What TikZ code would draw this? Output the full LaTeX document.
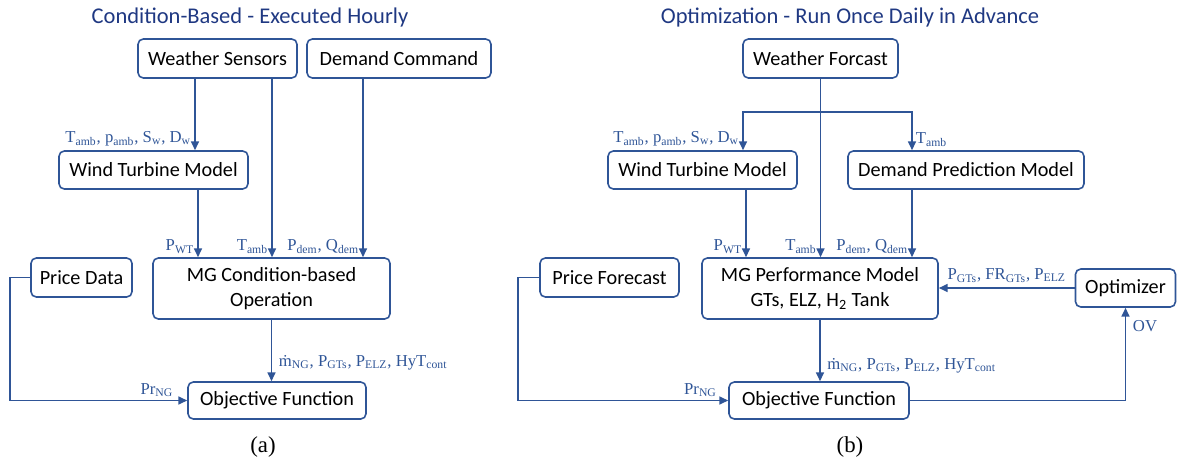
\documentclass[tikz,border=0pt]{standalone}
\usepackage{fontspec}
\setmainfont{Carlito}
\newfontfamily\labfont{Liberation Serif}
\usetikzlibrary{arrows.meta,positioning,calc}
\definecolor{lineblue}{RGB}{47,85,151}
\definecolor{titleblue}{RGB}{31,56,130}
\newcommand{\sbt}[1]{\textsubscript{#1}}
\tikzset{
  % boxes
  box/.style={
    draw=lineblue,
    line width=0.9pt,
    rounded corners=3pt,
    minimum height=0.78cm,
    align=center,
    font=\fontsize{11.5}{14}\selectfont
  },
  % connectors
  line/.style={draw=lineblue, line width=0.9pt},
  arr/.style={line, -{Triangle[length=5pt,width=4.5pt]}},
  lab/.style={font=\labfont\fontsize{9.5}{11}\selectfont, text=lineblue, inner sep=1.8pt},
  ttl/.style={font=\fontsize{12.8}{15}\selectfont, text=titleblue},
  subcap/.style={font=\labfont\fontsize{13}{15}\selectfont},
}
\begin{document}
\begin{tikzpicture}
    \useasboundingbox (0,0) rectangle (23.56,-9.24);

    % (a) Condition-based
    \node[ttl] (ta) at (5.0,-0.36) {Condition-Based - Executed Hourly};
    \node[box, minimum width=3.18cm] (ws) at (4.35,-1.17) {Weather Sensors};
    \node[box, minimum width=3.68cm] (dc) at (7.98,-1.17) {Demand Command};
    \node[box, minimum width=3.78cm, minimum height=0.76cm] (wt) at (3.07,-3.40) {Wind Turbine Model};
    \node[box, minimum width=4.74cm, minimum height=1.22cm] (mg) at (5.43,-5.77) {MG Condition-based\\Operation};
    \node[box, minimum width=2.02cm] (pd) at (1.63,-5.55) {Price Data};
    \node[box, minimum width=3.56cm, minimum height=0.74cm] (of) at (5.54,-8.01) {Objective Function};
    \node[subcap] (ca) at (5.26,-8.94) {(a)};

    \draw[arr] ([xshift=-0.45cm]ws.south) -- ([xshift=-0.45cm]ws.south |- wt.north)
        node[lab, above left] {T\sbt{amb}, p\sbt{amb}, S\sbt{w}, D\sbt{w}};
    \draw[arr] ([xshift=0.89cm]wt.south) -- ([xshift=0.89cm]wt.south |- mg.north)
        node[lab, above left] {P\sbt{WT}};
    \draw[arr] ([xshift=1.09cm]ws.south) -- ([xshift=1.09cm]ws.south |- mg.north)
        node[lab, above left] {T\sbt{amb}};
    \draw[arr] ([xshift=-0.72cm]dc.south) -- ([xshift=-0.72cm]dc.south |- mg.north)
        node[lab, above left] {P\sbt{dem}, Q\sbt{dem}};
    \draw[arr] (mg.south) -- (mg.south |- of.north)
        node[lab, pos=0.7, right=2pt] {\.{m}\sbt{NG}, P\sbt{GTs}, P\sbt{ELZ}, HyT\sbt{cont}};
    \draw[arr] (pd.west) -- ++(-0.4,0) |- (of.west)
        node[lab, above left, xshift=-0.2cm] {Pr\sbt{NG}};

    % (b) Optimization
    \node[ttl] (tb) at (17.0,-0.36) {Optimization - Run Once Daily in Advance};
    \node[box, minimum width=3.10cm] (wf) at (16.41,-1.17) {Weather Forcast};
    \node[box, minimum width=3.78cm, minimum height=0.76cm] (wt2) at (14.05,-3.40) {Wind Turbine Model};
    \node[box, minimum width=4.72cm, minimum height=0.76cm] (dp) at (19.32,-3.40) {Demand Prediction Model};
    \node[box, minimum width=4.72cm, minimum height=1.22cm] (mg2) at (16.40,-5.77) {MG Performance Model\\GTs, ELZ, H\sbt{2} Tank};
    \node[box, minimum width=2.78cm] (pf) at (12.19,-5.55) {Price Forecast};
    \node[box, minimum width=2.0cm, minimum height=0.76cm] (opt) at (22.51,-5.76) {Optimizer};
    \node[box, minimum width=3.60cm, minimum height=0.74cm] (of2) at (16.38,-8.01) {Objective Function};
    \node[subcap] (cb) at (17.0,-8.94) {(b)};

    \coordinate (br) at ($(wf.south)+(0,-0.66)$);
    \draw[arr] (wf.south) -- (wf.south |- mg2.north)
        node[lab, above left] {T\sbt{amb}};
    \draw[arr] (br) -| ([xshift=0.81cm]wt2.north)
        node[lab, above left] {T\sbt{amb}, p\sbt{amb}, S\sbt{w}, D\sbt{w}};
    \draw[arr] (br) -| ([xshift=-1.08cm]dp.north)
        node[lab, above right] {T\sbt{amb}};
    \draw[arr] ([xshift=0.87cm]wt2.south) -- ([xshift=0.87cm]wt2.south |- mg2.north)
        node[lab, above left] {P\sbt{WT}};
    \draw[arr] ([xshift=-1.08cm]dp.south) -- ([xshift=-1.08cm]dp.south |- mg2.north)
        node[lab, above left] {P\sbt{dem}, Q\sbt{dem}};
    \draw[arr] (opt.west) -- (mg2.east |- opt.west)
        node[lab, midway, above=1pt] {P\sbt{GTs}, FR\sbt{GTs}, P\sbt{ELZ}};
    \draw[arr] (mg2.south) -- (mg2.south |- of2.north)
        node[lab, pos=0.75, right=2pt] {\.{m}\sbt{NG}, P\sbt{GTs}, P\sbt{ELZ}, HyT\sbt{cont}};
    \draw[arr] (pf.west) -- ++(-0.42,0) |- (of2.west)
        node[lab, above left, xshift=-0.15cm] {Pr\sbt{NG}};
    \draw[arr] (of2.east) -| (opt.south)
        node[lab, pos=0.9, right=2pt] {OV};
\end{tikzpicture}
\end{document}
